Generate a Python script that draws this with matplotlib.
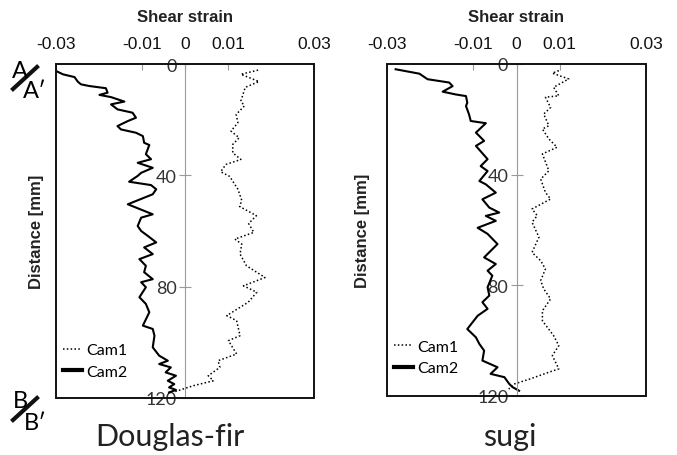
import matplotlib
matplotlib.use("Agg")
import matplotlib.pyplot as plt
from matplotlib.lines import Line2D
from matplotlib.patches import Rectangle

# Douglas-fir: distance (mm) and shear strain
df_cam1_d = [2.2, 3.7, 6.3, 8.4, 13.3, 15.1, 18.1, 21.1, 24.1, 26.5, 28.9, 31.9, 34.3, 36.1,
             38.7, 40.4, 45.0, 49.0, 51.2, 54.5, 57.3, 60.5, 62.9, 64.7, 68.3, 72.5, 76.7,
             79.7, 82.0, 85.6, 90.4, 92.2, 97.6, 99.4, 104.2, 106.6, 109.0, 112.0, 113.8,
             115.6, 117.7]
df_cam1_s = [0.0170, 0.0130, 0.0172, 0.0140, 0.0130, 0.0138, 0.0119, 0.0123, 0.0107, 0.0126,
             0.0111, 0.0111, 0.0130, 0.0095, 0.0083, 0.0104, 0.0123, 0.0132, 0.0127, 0.0166,
             0.0148, 0.0160, 0.0116, 0.0132, 0.0128, 0.0143, 0.0186, 0.0136, 0.0167, 0.0147,
             0.0097, 0.0120, 0.0128, 0.0101, 0.0120, 0.0077, 0.0081, 0.0054, 0.0066, 0.0019,
             -0.0023]
df_cam2_d = [2.5, 3.7, 4.7, 6.4, 7.3, 7.9, 8.7, 10.3, 11.1, 11.9, 13.5, 14.5, 16.3, 17.5,
             19.3, 20.5, 22.3, 23.5, 24.7, 25.9, 28.3, 29.1, 32.4, 34.2, 35.5, 37.3, 39.1,
             40.2, 42.3, 43.5, 45.0, 46.8, 50.4, 54.0, 55.2, 58.2, 60.0, 61.7, 64.1, 65.9,
             68.3, 70.1, 72.5, 74.8, 77.3, 78.4, 80.2, 83.8, 86.2, 89.2, 94.0, 95.2, 97.6,
             101.8, 104.8, 106.6, 107.8, 109.0, 110.8, 112.0, 113.8, 115.0, 116.2, 117.1,
             118.0]
df_cam2_s = [-0.0300, -0.0284, -0.0257, -0.0249, -0.0242, -0.0223, -0.0184, -0.0180, -0.0199,
             -0.0172, -0.0141, -0.0172, -0.0157, -0.0122, -0.0114, -0.0133, -0.0157, -0.0149,
             -0.0114, -0.0098, -0.0095, -0.0083, -0.0091, -0.0079, -0.0110, -0.0075, -0.0102,
             -0.0110, -0.0130, -0.0079, -0.0067, -0.0075, -0.0133, -0.0075, -0.0102, -0.0110,
             -0.0102, -0.0087, -0.0067, -0.0095, -0.0075, -0.0106, -0.0091, -0.0095, -0.0075,
             -0.0102, -0.0091, -0.0106, -0.0091, -0.0083, -0.0098, -0.0075, -0.0071, -0.0075,
             -0.0060, -0.0040, -0.0060, -0.0033, -0.0045, -0.0021, -0.0040, -0.0025, -0.0037,
             -0.0021, -0.0037]

# sugi
sg_cam1_d = [2.4, 3.3, 5.4, 8.4, 11.5, 12.0, 15.7, 18.1, 22.3, 23.5, 27.1, 30.1, 32.5, 38.6,
             41.6, 46.4, 48.8, 52.4, 54.8, 57.2, 62.6, 68.1, 71.1, 74.1, 78.3, 81.3, 84.9,
             89.2, 92.8, 98.2, 101.8, 105.4, 110.2, 111.4, 113.8, 115.7, 117.5]
sg_cam1_s = [0.0098, 0.0083, 0.0121, 0.0086, 0.0098, 0.0067, 0.0079, 0.0063, 0.0075, 0.0060,
             0.0075, 0.0094, 0.0060, 0.0075, 0.0056, 0.0067, 0.0079, 0.0036, 0.0048, 0.0036,
             0.0052, 0.0036, 0.0056, 0.0067, 0.0056, 0.0063, 0.0079, 0.0060, 0.0060, 0.0086,
             0.0098, 0.0083, 0.0098, 0.0075, 0.0032, -0.0006, -0.0018]
sg_cam2_d = [1.9, 3.5, 5.5, 6.7, 8.0, 10.0, 11.0, 11.6, 14.0, 15.2, 18.2, 20.6, 21.4, 24.8,
             27.8, 29.6, 34.4, 36.9, 38.7, 42.3, 43.5, 46.5, 48.9, 51.9, 53.7, 54.9, 56.7,
             59.2, 61.4, 65.1, 69.9, 72.3, 74.7, 76.5, 80.7, 83.7, 86.1, 88.5, 91.0, 95.8,
             98.8, 101.2, 103.6, 107.2, 109.6, 112.0, 113.2, 115.6, 116.8, 118.1]
sg_cam2_s = [-0.0280, -0.0225, -0.0206, -0.0156, -0.0148, -0.0171, -0.0141, -0.0117, -0.0114,
             -0.0117, -0.0110, -0.0106, -0.0071, -0.0094, -0.0075, -0.0094, -0.0067, -0.0083,
             -0.0067, -0.0086, -0.0071, -0.0048, -0.0079, -0.0063, -0.0040, -0.0071, -0.0048,
             -0.0090, -0.0067, -0.0044, -0.0075, -0.0048, -0.0067, -0.0056, -0.0067, -0.0063,
             -0.0079, -0.0067, -0.0090, -0.0114, -0.0094, -0.0086, -0.0075, -0.0079, -0.0044,
             -0.0060, -0.0028, -0.0017, -0.0009, 0.0006]

xticks = [-0.03, -0.01, 0, 0.01, 0.03]
xticklabels = ["-0.03", "-0.01", "0", "0.01", "0.03"]
yticks = [0, 40, 80, 120]

W, H = 677, 456
fig = plt.figure(figsize=(W / 100, H / 100), dpi=100)

GREY = "#9a9a9a"
TXT = ["Lato", "DejaVu Sans"]
DOT = (0, (1, 1.5))


def panel(rect, c1d, c1s, c2d, c2s, name, name_x, ylab_x, leg_anchor):
    ax = fig.add_axes(rect)
    ax.plot(c1s, c1d, color="black", lw=1.1, ls=DOT)
    ax.plot(c2s, c2d, color="black", lw=1.5)
    ax.set_xlim(-0.03, 0.03)
    ax.set_ylim(120, 0)

    for s in ["top", "right", "bottom"]:
        ax.spines[s].set_visible(False)
    ax.spines["left"].set_position(("data", 0))
    ax.spines["left"].set_color(GREY)
    ax.add_patch(Rectangle((0, 0), 1, 1, transform=ax.transAxes, fill=False,
                           lw=1.4, ec="#111111", clip_on=False, zorder=5))

    ax.xaxis.tick_top()
    ax.set_xticks(xticks)
    ax.set_xticklabels(xticklabels, family="Liberation Sans", fontsize=12.5, color="#111111")
    ax.tick_params(axis="x", direction="in", length=4, color=GREY, pad=9.5)
    ax.xaxis.set_label_position("top")
    ax.set_xlabel("Shear strain", family="Liberation Sans", fontweight="bold",
                  fontsize=12, labelpad=11, color="#222222")

    ax.set_yticks(yticks)
    ax.set_yticklabels([str(v) for v in yticks], family=TXT, fontsize=13, color="#333333")
    ax.tick_params(axis="y", direction="inout", length=8, color=GREY, pad=2)
    ax.set_ylabel("Distance [mm]", family="Liberation Sans", fontweight="bold",
                  fontsize=12, color="#222222")
    ax.yaxis.set_label_coords(ylab_x, 0.5)

    handles = [Line2D([], [], color="black", lw=1.1, ls=DOT),
               Line2D([], [], color="black", lw=3)]
    ax.legend(handles, ["Cam1", "Cam2"], loc="lower left", bbox_to_anchor=leg_anchor,
              frameon=False, handlelength=1.2, handletextpad=0.3, labelspacing=0.45,
              borderpad=0.0, borderaxespad=0.0, prop={"family": TXT, "size": 11.5})

    fig.text(name_x, 1 - 437 / H, name, family=TXT, fontsize=22, color="#222222",
             ha="center", va="center")
    return ax


panel([56 / W, 1 - 399 / H, 258 / W, 334 / H], df_cam1_d, df_cam1_s, df_cam2_d, df_cam2_s,
      "Douglas-fir", 170 / W, -0.045, (0.026, 0.058))
panel([387 / W, 1 - 397 / H, 259 / W, 332 / H], sg_cam1_d, sg_cam1_s, sg_cam2_d, sg_cam2_s,
      "sugi", 510 / W, -0.065, (0.026, 0.062))


# A/A' and B/B' section marks
def mark(top, bottom, y0):
    fig.text(20 / W, 1 - (y0 + 9) / H, top, family=TXT, fontsize=17, ha="center", va="center")
    fig.text(35 / W, 1 - (y0 + 30) / H, bottom, family=TXT, fontsize=17, ha="center", va="center")
    fig.add_artist(Line2D([13 / W, 37 / W], [1 - (y0 + 28) / H, 1 - (y0 + 6) / H],
                          transform=fig.transFigure, color="#111111", lw=3))


mark("A", "A\u2032", 62)
mark("B", "B\u2032", 393)

fig.savefig("out.png", dpi=100)
